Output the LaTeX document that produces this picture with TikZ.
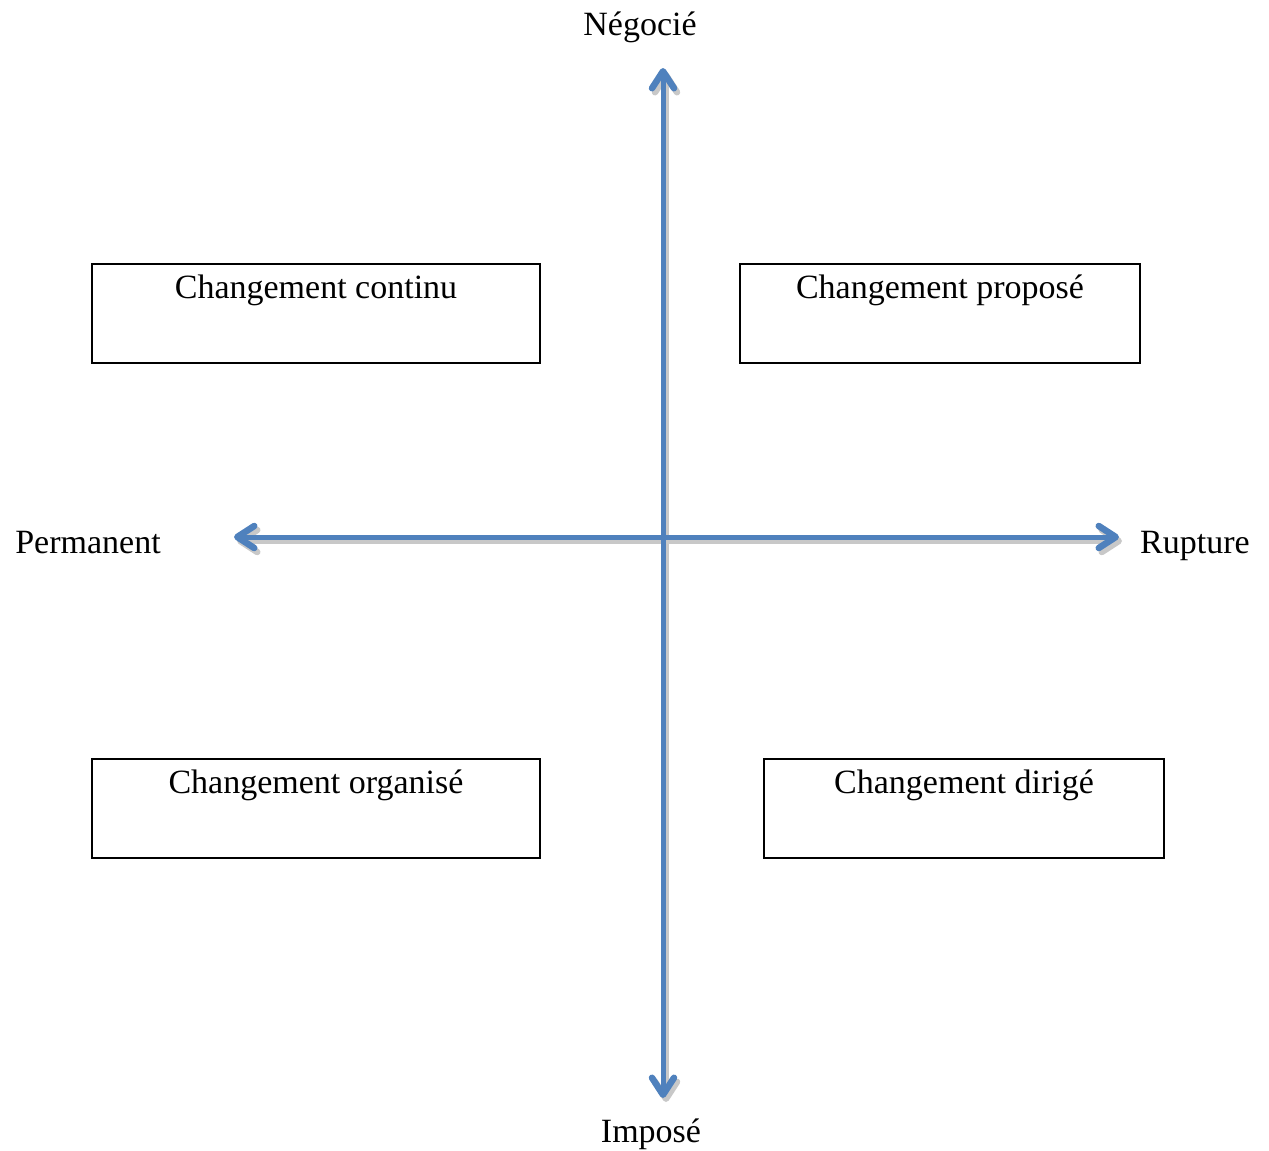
\documentclass[tikz,border=0pt]{standalone}
\usepackage{fontspec}
\setmainfont{Liberation Serif}
\usetikzlibrary{arrows.meta}
\definecolor{axisblue}{HTML}{4F81BD}
\definecolor{shadowgrey}{HTML}{C8C8C8}
\begin{document}
\begin{tikzpicture}[x=1pt,y=-1pt,
  lbl/.style={font=\fontsize{34}{40}\selectfont, inner sep=0pt, anchor=base},
  box/.style={draw=black, line width=2pt, minimum width=#1, minimum height=99pt, inner sep=0pt},
  axis/.style={line width=5pt, draw=axisblue, line cap=round,
    arrows={Straight Barb[length=17pt,width=22pt,line width=6.5pt,line cap=round,line join=round]-Straight Barb[length=17pt,width=22pt,line width=6.5pt,line cap=round,line join=round]}},
  shadowax/.style={axis, draw=shadowgrey}]
\useasboundingbox (0,0) rectangle (1269,1151);
% axis endpoints
\coordinate (top) at (663,68);
\coordinate (bot) at (663,1098);
\coordinate (left) at (234,537);
\coordinate (right) at (1119,537);
\coordinate (tops) at (666,72);
\coordinate (bots) at (666,1102);
\coordinate (lefts) at (237,541);
\coordinate (rights) at (1122,541);
% shadows
\draw[shadowax] (bots) -- (tops);
\draw[shadowax] (lefts) -- (rights);
% axes
\draw[axis] (bot) -- (top);
\draw[axis] (left) -- (right);
% axis labels
\node[lbl] (neg) at (640,35) {Négocié};
\node[lbl] (imp) at (651,1142) {Imposé};
\node[lbl] (perm) at (88,553) {Permanent};
\node[lbl] (rup) at (1195,553) {Rupture};
% boxes
\node[box=448pt] (b1) at (316,313.5) {};
\node[box=400pt] (b2) at (940,313.5) {};
\node[box=448pt] (b3) at (316,808) {};
\node[box=400pt] (b4) at (964,808) {};
\node[lbl] (t1) at (316,298) {Changement continu};
\node[lbl] (t2) at (940,298) {Changement proposé};
\node[lbl] (t3) at (316,793) {Changement organisé};
\node[lbl] (t4) at (964,793) {Changement dirigé};
\end{tikzpicture}
\end{document}
